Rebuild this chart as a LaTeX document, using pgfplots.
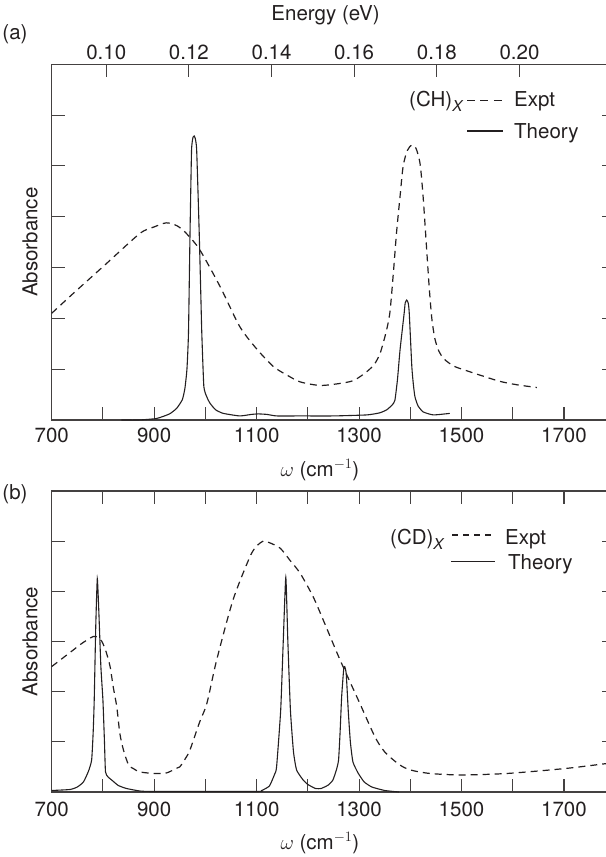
\documentclass[border=0pt]{standalone}
\usepackage{fontspec}
\setmainfont{TeX Gyre Heros}
\usepackage{pgfplots}
\pgfplotsset{compat=1.18}
\newcommand\fs{\fontsize{20.5bp}{24bp}\selectfont}
\definecolor{ink}{HTML}{231F20}
\pgfplotsset{
  myax/.style={
    scale only axis, width=563.5bp,
    xmin=700, xmax=1800, ymin=0,
    axis line style={line width=1.3bp, color=ink!85},
    tick style={line width=1.1bp, color=ink!85},
    major tick length=13bp, tick align=inside,
    yticklabels={}, ytick pos=both,
    /pgf/number format/assume math mode=true,
    tick label style={font=\fs, text=ink},
    label style={font=\fs, text=ink},
    xtick={700,800,...,1800},
    xticklabels={700,,900,,1100,,1300,,1500,,1700,},
    xticklabel pos=left,
    clip=false,
  },
  expt/.style={ink, line width=1.2bp, dash pattern=on 7bp off 5bp, smooth, tension=0.45},
  theo/.style={ink, line width=1.1bp, smooth, tension=0.3},
}
\begin{document}
\begin{tikzpicture}
% ---------------- panel (a)
\begin{axis}[myax, at={(51.7bp,437bp)}, anchor=south west,
  height=355.7bp, ymax=7, ytick={1,...,6},
  xtick pos=left,
  xticklabel style={anchor=center, yshift=-15bp},
  xlabel={$\omega$ (cm$^{-1}$)},
  xlabel style={at={(axis description cs:0.476,-0.1406)}, anchor=center},
  ylabel={Absorbance},
  ylabel style={at={(axis description cs:-0.0385,0.5)}, anchor=center},
]
\addplot[expt] coordinates {
(700,2.10) (742,2.49) (807,3.08) (872,3.67) (900,3.80) (924,3.88) (945,3.82)
(963,3.67) (989,3.35) (1029,2.62) (1067,1.84) (1100,1.40) (1133,1.05) (1160,0.88)
(1185,0.75) (1224,0.68) (1263,0.72) (1290,0.78) (1315,0.95) (1330,1.10) (1341,1.31)
(1352,1.70) (1360,2.10) (1367,2.90) (1373,3.67) (1380,4.40) (1386,4.99) (1394,5.30)
(1403,5.41) (1411,5.35) (1419,5.05) (1425,4.40) (1432,3.35) (1437,2.60) (1442,2.00)
(1448,1.60) (1456,1.35) (1466,1.20) (1485,1.06) (1510,0.97) (1540,0.87) (1575,0.76)
(1610,0.69) (1647,0.64)};
\addplot[theo] coordinates {
(836,0.0) (870,0.0) (905,0.03) (930,0.12) (944,0.23) (955,0.40) (960,0.62) (964,1.0)
(967,1.71) (970,3.67) (973,5.31) (976,5.57) (978,5.59) (980,5.55) (983,5.31)
(988,3.67) (991,2.5) (993,1.71) (997,0.66) (1003,0.45) (1009,0.33) (1020,0.20)
(1035,0.13) (1067,0.08) (1090,0.11) (1103,0.12) (1120,0.11) (1139,0.08) (1185,0.08)
(1250,0.08) (1315,0.10) (1340,0.14) (1354,0.20) (1365,0.30) (1370,0.39) (1375,0.8)
(1380,1.38) (1388,2.10) (1390,2.30) (1393,2.36) (1396,2.30) (1398,2.10) (1403,1.05)
(1406,0.7) (1409,0.46) (1415,0.28) (1425,0.16) (1445,0.10) (1477,0.13)};
\end{axis}
% energy axis on top of (a)
\begin{axis}[scale only axis, width=563.5bp, height=355.7bp,
  at={(51.7bp,437bp)}, anchor=south west,
  xmin=0.0867895, xmax=0.2231717, ymin=0, ymax=7,
  axis line style={draw=none}, ytick=\empty,
  xtick pos=right, xticklabel pos=right,
  tick style={line width=1.1bp, color=ink!85},
  major tick length=13bp, tick align=inside,
  xtick={0.10,0.12,0.14,0.16,0.18,0.20},
  xticklabels={0.10,0.12,0.14,0.16,0.18,0.20},
  /pgf/number format/assume math mode=true,
  tick label style={font=\fs, text=ink},
  xticklabel style={anchor=center, yshift=12.3bp},
  xlabel={Energy (eV)},
  xlabel style={font=\fs, text=ink, at={(axis description cs:0.486,1.1386)}, anchor=center},
]
\end{axis}
% ---------------- panel (b)
\begin{axis}[myax, at={(51.7bp,65bp)}, anchor=south west,
  height=301bp, ymax=6, ytick={1,...,5},
  xtick pos=both,
  xticklabel style={anchor=center, yshift=-17bp},
  xlabel={$\omega$ (cm$^{-1}$)},
  xlabel style={at={(axis description cs:0.476,-0.1694)}, anchor=center},
  ylabel={Absorbance},
  ylabel style={at={(axis description cs:-0.0385,0.5)}, anchor=center},
]
\addplot[expt] coordinates {
(700,2.50) (742,2.83) (760,2.97) (781,3.10) (790,3.08) (798,3.00) (806,2.80)
(814,2.50) (820,2.10) (827,1.70) (833,1.17) (840,0.84) (850,0.54) (859,0.47)
(872,0.40) (900,0.37) (924,0.38) (943,0.47) (950,0.50) (963,0.70) (970,0.84)
(989,1.40) (1003,1.77) (1022,2.63) (1054,3.83) (1087,4.69) (1100,4.90) (1113,5.00)
(1125,4.97) (1146,4.86) (1165,4.62) (1185,4.36) (1210,3.90) (1230,3.43) (1263,2.63)
(1300,1.80) (1331,1.10) (1350,0.80) (1378,0.55) (1400,0.44) (1438,0.37) (1499,0.34)
(1590,0.37) (1704,0.47) (1793,0.58)};
\addplot[theo] coordinates {
(700,0.03) (736,0.05) (750,0.10) (762,0.20) (772,0.42) (778,0.64) (781,1.2)
(783,1.83) (786,3.3) (789,4.25) (792,3.6) (796,2.5) (800,1.83) (803,1.0) (805,0.40)
(810,0.30) (817,0.24) (830,0.13) (846,0.07) (872,0.02) (900,0.01) (1100,0.01)
(1110,0.03) (1125,0.12) (1135,0.35) (1139,0.50) (1147,1.63) (1152,3.0) (1157,4.28)
(1161,3.0) (1166,1.63) (1172,0.8) (1178,0.44) (1190,0.25) (1200,0.15) (1215,0.07)
(1226,0.07) (1240,0.14) (1249,0.24) (1256,0.45) (1260,0.64) (1263,1.2) (1266,1.9)
(1270,2.45) (1272,2.50) (1275,2.35) (1279,1.6) (1283,1.0) (1288,0.6) (1298,0.38)
(1310,0.2) (1325,0.10) (1350,0.03) (1378,0.0)};
\end{axis}
% ---------------- legends and panel letters
\node[font=\fs, text=ink, anchor=center] at (15bp,823bp) {(a)};
\node[font=\fs, text=ink, anchor=center] at (15bp,363bp) {(b)};
\node[font=\fs, text=ink, anchor=base west, inner sep=0pt] at (409bp,750.3bp) {(CH)\raisebox{-5bp}{\fontsize{15bp}{18bp}\itshape X}};
\draw[ink, line width=1.1bp, dash pattern=on 7.7bp off 5.7bp] (467bp,756.3bp) -- (503bp,756.3bp);
\node[font=\fs, text=ink, anchor=base west, inner sep=0pt] at (514bp,750.3bp) {Expt};
\draw[ink, line width=1.1bp] (467bp,726bp) -- (503bp,726bp);
\node[font=\fs, text=ink, anchor=base west, inner sep=0pt] at (514bp,718bp) {Theory};
\node[font=\fs, text=ink, anchor=base west, inner sep=0pt] at (390bp,312bp) {(CD)\raisebox{-5bp}{\fontsize{15bp}{18bp}\itshape X}};
\draw[ink, line width=1.1bp, dash pattern=on 6bp off 5bp] (452bp,322bp) -- (495bp,322bp);
\node[font=\fs, text=ink, anchor=base west, inner sep=0pt] at (505bp,312bp) {Expt};
\draw[ink, line width=1.1bp] (451bp,295.3bp) -- (495bp,295.3bp);
\node[font=\fs, text=ink, anchor=base west, inner sep=0pt] at (508bp,287.7bp) {Theory};
\pgfresetboundingbox
\path[use as bounding box] (0,0) rectangle (606bp,857bp);
\end{tikzpicture}
\end{document}
